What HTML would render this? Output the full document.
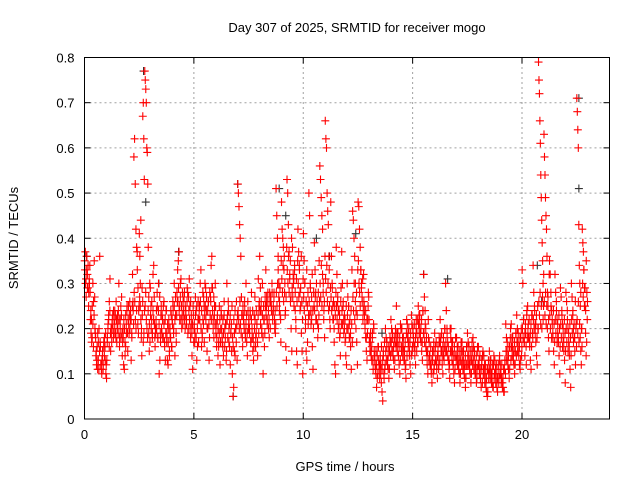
<!DOCTYPE html>
<html><head><meta charset="utf-8"><style>
body{margin:0;background:#fff;}
svg{display:block;font-family:"Liberation Sans",sans-serif;}
</style></head><body>
<svg id="chart" width="640" height="480" viewBox="0 0 640 480">
<rect width="640" height="480" fill="#fff"/>
<text x="357" y="32" font-size="13" text-anchor="middle">Day 307 of 2025, SRMTID for receiver mogo</text>
<text x="345" y="471" font-size="13" text-anchor="middle">GPS time / hours</text>
<text transform="translate(18,238) rotate(-90)" font-size="13" text-anchor="middle">SRMTID / TECUs</text>
<g id="grid"></g><g id="ticks"></g><g id="black"></g><g id="red"></g>
<rect x="84.5" y="57.5" width="525" height="361.5" fill="none" stroke="#000" stroke-width="1"/>
</svg>
<script>
const xTicks=[0,5,10,15,20];
const yTicks=[0,0.1,0.2,0.3,0.4,0.5,0.6,0.7,0.8];
const yTickLabels=["0","0.1","0.2","0.3","0.4","0.5","0.6","0.7","0.8"];
const binHours=0.25;
const redBins=[
"35 37 31 33 29 34 28 30","28 24 22 18 30 26 35 20","18 15 13 11 17 20 36 16","12 10 14 11 16 18 13 10",
"9 17 20 23 26 31 15 19","21 23 18 22 24 19 26 17","23 19 30 16 22 18 27 14","20 12 11 17 23 19 25 15",
"25 19 26 22 13 18 32 24","58 62 52 42 38 33 29 24","41 36 30 44 18 14 23 67 70 62 53","77 75 73 70 60 59 52 38 19 15 30",
"29 25 22 18 32 34 21 16","19 24 28 18 30 10 13 17","25 19 22 18 26 16 13 24","17 13 12 20 15 18 24 16",
"22 26 19 30 14 23 17 28","33 35 37 25 30 22 20 28","26 23 28 20 24 22 29 19","27 31 25 18 21 14 11 23",
"20 17 27 24 13 16 26 22","25 30 33 16 19 22 27 17","30 29 24 15 20 26 13 28","27 34 36 29 22 18 25 30",
"19 16 22 14 17 25 12 20","23 18 16 14 26 20 21 13","30 23 26 17 21 12 19 15","10 5 7 15 14 20 26 13",
"52 50 47 43 40 36 27 23 16","23 21 26 19 30 17 14 24","22 20 24 17 28 18 15 13","23 27 16 19 21 14 31 25",
"36 29 24 19 30 10 22 16","27 33 25 22 28 20 18 26","27 25 30 22 24 28 20 19","51 45 40 36 30 26 23 17",
"48 42 40 38 33 28 23 16 13","53 50 43 37 32 26 20 15","38 32 31 33 24 20 15 12","42 37 34 28 25 19 15 10",
"41 35 30 20 15 13 17 21","50 45 30 24 22 16 11 28","39 33 28 22 26 18 20 35","56 53 49 45 42 30 24 18",
"66 62 60 50 46 43 36 25 20","48 36 30 25 22 17 12 10","38 32 26 24 21 18 14 29","37 30 25 22 20 17 14 12",
"30 27 25 21 18 16 11 33","46 44 40 36 30 24 17 12","48 47 42 38 33 30 26 22","32 25 21 18 15 13 22 28",
"22 18 17 15 13 19 11 20","14 12 10 7 9 16 13 11","12 10 8 6 4 14 9 11","20 18 16 13 11 9 15 17",
"22 20 18 15 13 11 17 19","25 19 17 14 12 10 21 16","20 18 16 15 13 11 9 22","21 19 17 14 12 10 23 15",
"20 18 16 14 12 22 19 17","25 23 21 19 17 15 13 24","32 27 24 20 15 12 10 18","17 14 12 10 8 13 15 11",
"19 16 13 11 9 14 12 17","22 18 15 12 10 14 16 20","30 24 20 17 13 11 9 15","20 17 15 12 10 8 14 18",
"18 16 14 12 10 8 13 15","17 15 13 11 9 7 12 16","19 17 14 12 10 8 13 15","18 16 14 12 10 8 11 15",
"16 13 11 9 7 12 14 10","14 12 10 8 6 5 11 9","15 13 11 10 8 7 12 9","13 11 10 8 6 12 9 14",
"12 10 9 8 7 6 11 13","21 18 15 13 11 9 16 20","21 18 16 14 12 10 15 19","23 20 17 15 12 11 18 14",
"33 30 22 17 14 19 12 24","25 21 18 16 13 11 23 19","34 28 25 21 17 14 12 20","79 75 72 66 61 54 49 44 39 35 30 25",
"63 58 54 49 45 42 36 28 25 18 15","35 32 28 24 21 18 15 12","32 28 26 22 19 17 14 10","29 27 24 21 18 15 13 8",
"28 26 24 20 17 14 11 7","30 27 23 20 18 15 12 21","71 68 64 60 43 34 30 25 15 12 20","42 39 37 33 29 25 19 14 17 22"
];
const redBins2=[
"33 30 27 36 32 29 25 31 34","22 19 17 25 21 16 23 27 19","14 12 16 19 13 11 15 17 12","11 13 15 12 17 14 16 19 12",
"13 18 21 22 16 24 19 20 17","22 20 24 19 21 23 18 22 20","21 24 22 18 20 25 23 19 17","18 22 20 14 16 21 24 19 22",
"21 23 20 24 22 19 25 26 21","28 26 22 20 24 37 21 19 25","27 25 22 20 29 26 17 19 24","25 28 22 20 18 24 27 21 17",
"23 20 26 19 24 22 27 18 20","22 20 25 18 24 21 27 19 23","20 23 18 25 21 17 22 19 24","19 21 17 22 14 20 18 23 16",
"21 24 20 25 22 27 19 23 26","26 29 24 22 27 31 25 23 21","24 27 22 25 23 21 26 28 20","24 22 20 26 23 19 21 25 17",
"21 19 23 18 25 20 22 17 24","22 26 20 24 18 28 21 25 23","25 22 27 20 24 26 21 18 23","26 22 29 24 20 27 23 21 25",
"21 18 23 20 16 19 22 17 24","20 17 22 19 23 16 18 21 15","22 18 24 20 16 23 19 21 25","18 16 22 19 24 20 17 21 23",
"24 22 20 26 21 19 23 18 25","22 20 24 18 21 23 19 26 20","21 19 23 17 22 20 24 18 16","20 22 18 24 21 17 23 19 26",
"24 21 26 20 23 18 25 22 19","25 23 27 21 26 24 22 28 20","26 24 28 23 25 27 22 24 21","28 25 30 33 27 24 29 22 35",
"31 28 34 26 36 30 24 27 38","33 30 36 28 31 35 27 40 29","27 30 25 34 28 22 31 26 35","30 27 33 24 29 36 26 22 31",
"27 24 30 22 26 33 25 28 23","26 23 29 21 27 32 24 20 25","24 27 22 30 25 21 28 23 26","30 27 34 25 32 28 22 26 36",
"31 28 34 26 30 24 33 22 29","27 24 29 22 26 20 25 23 28","25 22 27 20 24 23 19 26 21","24 21 26 19 23 22 18 25 20",
"23 20 25 18 22 19 24 21 17","27 24 30 22 26 20 28 23 33","35 30 28 25 33 29 27 31 24","26 23 20 24 18 22 19 25 27",
"17 15 19 14 16 18 13 21 15","13 11 15 12 14 10 16 12 9","14 12 16 11 13 15 10 17 12","15 13 17 12 14 16 11 18 14",
"17 15 19 14 16 18 13 20 16","17 15 19 14 16 18 13 20 15","16 14 18 13 15 17 12 19 14","18 16 20 15 17 19 14 21 16",
"19 17 21 16 18 20 15 22 17","21 19 23 18 20 22 17 24 19","19 17 21 16 18 14 15 22 13","14 12 16 11 13 15 10 17 12",
"15 13 17 12 14 16 11 18 13","17 15 19 14 16 18 13 20 15","17 15 19 14 16 13 12 20 18","15 13 17 12 14 16 11 18 13",
"14 12 16 11 13 15 10 17 12","13 11 15 10 12 14 9 16 12","14 12 16 11 13 15 10 17 12","13 11 15 10 12 14 9 16 12",
"12 10 14 9 11 13 8 15 11","10 8 12 7 9 11 6 13 10","11 9 13 8 10 12 7 14 10","10 8 12 7 9 11 8 13 10",
"10 8 12 7 9 11 6 13 10","15 13 17 12 14 16 11 18 13","16 14 18 13 15 17 12 19 14","17 15 19 14 16 18 13 20 16",
"20 18 22 17 19 21 16 23 18","20 18 22 17 19 21 16 23 18","22 20 24 19 21 23 18 25 20","26 23 28 21 25 20 27 22 32",
"26 23 28 21 25 20 27 22 32","23 20 25 18 22 19 24 21 17","22 19 24 17 21 18 23 20 16","21 18 23 16 20 17 22 19 15",
"20 17 22 15 19 16 21 18 14","22 19 24 17 21 18 26 20 16","22 19 26 17 21 18 28 20 16","30 27 33 25 29 24 35 28 26"
];
const blackTimes=[0.1,2.7,2.8,3.4,6.8,7.0,8.9,10.6,12.4,13.6,15.5,16.6,20.7,20.9,22.6,22.6,4.3,9.2,11.2,18.2];
const blackValues=[0.36,0.77,0.48,0.30,0.05,0.52,0.51,0.40,0.41,0.19,0.32,0.31,0.34,0.26,0.71,0.51,0.37,0.45,0.36,0.14];
const X0=84.5,X1=609.5,Y0=419,Y1=57.5,XMAX=24,YMAX=0.8;
function xs(v){return X0+(X1-X0)*v/XMAX;}
function ys(v){return Y0-(Y0-Y1)*v/YMAX;}
const NS="http://www.w3.org/2000/svg";
function mk(tag,attrs,parent){const e=document.createElementNS(NS,tag);for(const k in attrs)e.setAttribute(k,attrs[k]);parent.appendChild(e);return e;}
const grid=document.getElementById('grid'),ticks=document.getElementById('ticks');
xTicks.forEach((t,i)=>{
 const x=xs(t);
 if(t>0){const g=mk('line',{x1:x,y1:Y0,x2:x,y2:Y1,stroke:'#a0a0a0','stroke-dasharray':'2,3'},grid);
 
 }
 mk('line',{x1:x,y1:Y0,x2:x,y2:Y0-6,stroke:'#000'},ticks);
 mk('line',{x1:x,y1:Y1,x2:x,y2:Y1+6,stroke:'#000'},ticks);
 const l=mk('text',{x:x,y:Y0+20,'font-size':13,'text-anchor':'middle'},ticks);l.textContent=String(t);
 
 
});
yTicks.forEach((t,i)=>{
 const y=ys(t);
 if(t>0&&t<YMAX){const g=mk('line',{x1:X0,y1:y,x2:X1,y2:y,stroke:'#a0a0a0','stroke-dasharray':'2,3'},grid);
 
 }
 mk('line',{x1:X0,y1:y,x2:X0+6,y2:y,stroke:'#000'},ticks);
 mk('line',{x1:X1,y1:y,x2:X1-6,y2:y,stroke:'#000'},ticks);
 const l=mk('text',{x:X0-10,y:y+5,'font-size':13,'text-anchor':'end'},ticks);l.textContent=yTickLabels[i];
 
 
});
function plus(t,v,color,parent){
 const x=xs(t),y=ys(v);
 const p=mk('path',{d:`M${x-4},${y}h8M${x},${y-4}v8`,stroke:color,'stroke-width':1.1,fill:'none'},parent);
 
 
}
const blk=document.getElementById('black'),red=document.getElementById('red');
blackTimes.forEach((t,i)=>plus(t,blackValues[i],'#333',blk));
[redBins,redBins2].forEach((bins,k)=>{
 bins.forEach((s,b)=>{
  const vals=s.split(' ').map(Number);
  vals.forEach((v,j)=>plus(b*binHours+(j+0.25+0.5*k)*binHours/vals.length,v/100,'#f00',red));
 });
});
</script>
</body></html>
